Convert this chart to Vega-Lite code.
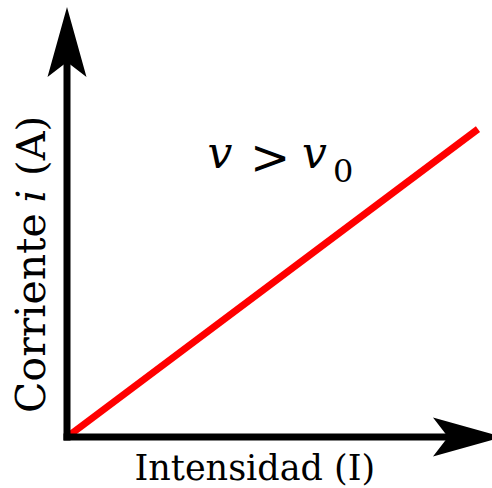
{
  "$schema": "https://vega.github.io/schema/vega-lite/v6.json",
  "autosize": "none",
  "width": 425,
  "height": 430,
  "padding": {"left": 67, "top": 7, "right": 0, "bottom": 51},
  "background": "white",
  "config": {"view": {"stroke": null}},
  "datasets": {
    "response": [
      {"intensity": 0, "current": 0},
      {"intensity": 9.67, "current": 7.16}
    ],
    "shafts": [
      {"x": 0, "y": 0, "x2": 9.0, "y2": 0},
      {"x": 0, "y": 0, "x2": 0, "y2": 8.8}
    ],
    "yHead": [{"x": 0, "y": 9.186}],
    "xHead": [{"x": 9.435, "y": 0}],
    "xTitle": [{"x": 4.42, "y": -1.0, "label": "Intensidad (I)"}],
    "yTitleUpright": [
      {"x": -0.518, "y": 0.56, "label": "Corriente"}
    ],
    "yTitleItalic": [{"x": -0.518, "y": 5.6, "label": "i"}],
    "yTitleUnit": [{"x": -0.518, "y": 6.77, "label": "(A)"}],
    "condVar": [
      {"x": 3.6, "y": 6.26, "label": "v"},
      {"x": 5.82, "y": 6.26, "label": "v"}
    ],
    "condOp": [{"x": 4.78, "y": 6.44, "label": ">"}],
    "condSub": [{"x": 6.5, "y": 5.93, "label": "0"}]
  },
  "layer": [
    {
      "data": {"name": "response"},
      "mark": {"type": "line", "color": "#ff0000", "strokeWidth": 7, "strokeCap": "butt"},
      "encoding": {
        "x": {"field": "intensity", "type": "quantitative", "scale": {"domain": [0, 10], "nice": false, "zero": false}, "axis": null},
        "y": {"field": "current", "type": "quantitative", "scale": {"domain": [0, 10], "nice": false, "zero": false}, "axis": null}
      }
    },
    {
      "data": {"name": "shafts"},
      "mark": {"type": "rule", "color": "black", "strokeWidth": 7, "strokeCap": "square"},
      "encoding": {
        "x": {"field": "x", "type": "quantitative"},
        "x2": {"field": "x2"},
        "y": {"field": "y", "type": "quantitative"},
        "y2": {"field": "y2"}
      }
    },
    {
      "data": {"name": "yHead"},
      "mark": {"type": "point", "filled": true, "color": "black", "opacity": 1, "size": 4900,
               "shape": "M0,-1 L0.557,1 L0,0.571 L-0.557,1 Z"},
      "encoding": {
        "x": {"field": "x", "type": "quantitative"},
        "y": {"field": "y", "type": "quantitative"}
      }
    },
    {
      "data": {"name": "xHead"},
      "mark": {"type": "point", "filled": true, "color": "black", "opacity": 1, "size": 4900,
               "shape": "M1,0 L-1,0.557 L-0.571,0 L-1,-0.557 Z"},
      "encoding": {
        "x": {"field": "x", "type": "quantitative"},
        "y": {"field": "y", "type": "quantitative"}
      }
    },
    {
      "data": {"name": "xTitle"},
      "mark": {"type": "text", "font": "DejaVu Serif", "fontSize": 35, "color": "black", "align": "center", "baseline": "alphabetic"},
      "encoding": {
        "x": {"field": "x", "type": "quantitative"},
        "y": {"field": "y", "type": "quantitative"},
        "text": {"field": "label"}
      }
    },
    {
      "data": {"name": "yTitleUpright"},
      "mark": {"type": "text", "font": "DejaVu Serif", "fontSize": 41, "color": "black", "angle": 270, "align": "left", "baseline": "alphabetic"},
      "encoding": {
        "x": {"field": "x", "type": "quantitative"},
        "y": {"field": "y", "type": "quantitative"},
        "text": {"field": "label"}
      }
    },
    {
      "data": {"name": "yTitleItalic"},
      "mark": {"type": "text", "font": "DejaVu Serif", "fontStyle": "italic", "fontSize": 40, "color": "black", "angle": 270, "align": "center", "baseline": "alphabetic"},
      "encoding": {
        "x": {"field": "x", "type": "quantitative"},
        "y": {"field": "y", "type": "quantitative"},
        "text": {"field": "label"}
      }
    },
    {
      "data": {"name": "yTitleUnit"},
      "mark": {"type": "text", "font": "DejaVu Serif", "fontSize": 40, "color": "black", "angle": 270, "align": "center", "baseline": "alphabetic"},
      "encoding": {
        "x": {"field": "x", "type": "quantitative"},
        "y": {"field": "y", "type": "quantitative"},
        "text": {"field": "label"}
      }
    },
    {
      "data": {"name": "condVar"},
      "mark": {"type": "text", "font": "DejaVu Serif", "fontStyle": "italic", "fontSize": 44, "color": "black", "align": "center", "baseline": "alphabetic"},
      "encoding": {
        "x": {"field": "x", "type": "quantitative"},
        "y": {"field": "y", "type": "quantitative"},
        "text": {"field": "label"}
      }
    },
    {
      "data": {"name": "condOp"},
      "mark": {"type": "text", "font": "DejaVu Serif", "fontSize": 48, "color": "black", "align": "center", "baseline": "middle"},
      "encoding": {
        "x": {"field": "x", "type": "quantitative"},
        "y": {"field": "y", "type": "quantitative"},
        "text": {"field": "label"}
      }
    },
    {
      "data": {"name": "condSub"},
      "mark": {"type": "text", "font": "DejaVu Serif", "fontSize": 32, "color": "black", "align": "center", "baseline": "alphabetic"},
      "encoding": {
        "x": {"field": "x", "type": "quantitative"},
        "y": {"field": "y", "type": "quantitative"},
        "text": {"field": "label"}
      }
    }
  ]
}
